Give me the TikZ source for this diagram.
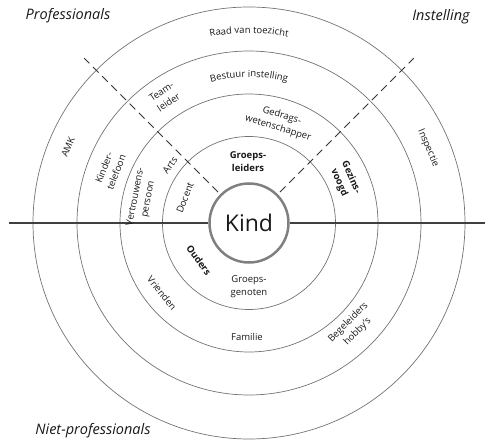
\documentclass[tikz,border=0pt]{standalone}
\usepackage{fontspec}
\setmainfont{Open Sans}
\usetikzlibrary{decorations.text}
\tikzset{
  ring/.style={draw=black!55, line width=0.7pt},
  axis/.style={draw=black!75, line width=1.1pt},
  divider/.style={draw=black!80, line width=0.8pt, dash pattern=on 8pt off 5pt},
  ringtext/.style={font=\fontsize{9.5}{13}\selectfont, text=black!90, align=center, inner sep=0pt},
  ringbold/.style={ringtext, font=\fontsize{9.5}{13}\selectfont\bfseries},
  corner/.style={font=\fontsize{14.5}{16}\selectfont\itshape, text=black!90, inner sep=0pt},
  kindcircle/.style={circle, draw=black!50, line width=2.5pt, fill=white, minimum size=79pt, inner sep=0pt, font=\fontsize{23}{23}\selectfont, text=black!90}
}
\begin{document}
\begin{tikzpicture}[x=1pt,y=1pt]
\useasboundingbox (-249,-221) rectangle (236,223);

\foreach \r in {86.5,129,172,216}
  \draw[ring] (0,0) circle [radius=\r];

\coordinate (axisW) at (-240,0);
\coordinate (axisE) at (236,0);
\coordinate (dashNW) at (135:233);
\coordinate (dashNE) at (45:233);

\node[kindcircle] (kind) at (0,0) {Kind};

\draw[axis] (axisW) -- (kind.west);
\draw[axis] (kind.east) -- (axisE);
\draw[divider, shorten <=3pt] (kind.135) -- (dashNW);
\draw[divider, shorten <=3pt] (kind.45) -- (dashNE);

\path[decorate, decoration={text along path, text align=center, text color=black!90,
  text={|\fontsize{9.5}{13}\selectfont|Raad van toezicht}}]
  (118:190) arc [start angle=118, end angle=62, radius=190];
\path[decorate, decoration={text along path, text align=center, text color=black!90,
  text={|\fontsize{9.5}{13}\selectfont|Bestuur instelling}}]
  (125:146) arc [start angle=125, end angle=55, radius=146];

\node[ringtext, rotate=67] (amk) at (-181,76) {AMK};
\node[ringtext, rotate=-67] (inspectie) at (179,75) {Inspectie};

\node[ringtext, rotate=34] (teamleider) at (-84,126) {Team-\\leider};
\node[ringtext, rotate=69] (kindertel) at (-139,53) {Kinder-\\telefoon};
\node[ringtext, rotate=45] (begeleiders) at (104,-104) {Begeleiders\\hobby's};

\node[ringtext, rotate=-17] (gedrag) at (31,101) {Gedrags-\\wetenschapper};
\node[ringtext, rotate=79] (vertrouwen) at (-107,25) {Vertrouwens-\\persoon};
\node[ringtext, rotate=54] (arts) at (-79,58) {Arts};
\node[ringbold, rotate=-66] (gezinsvoogd) at (96,43) {Gezins-\\voogd};
\node[ringtext] (familie) at (-2,-114) {Familie};
\node[ringtext, rotate=-51] (vrienden) at (-87,-70) {Vrienden};

\node[ringbold] (groepsleiders) at (-1,61) {Groeps-\\leiders};
\node[ringtext, rotate=69] (docent) at (-64,25) {Docent};
\node[ringbold, rotate=-54] (ouders) at (-50,-37) {Ouders};
\node[ringtext] (groepsgenoten) at (0,-64) {Groeps-\\genoten};

\node[corner] (prof) at (-181,207) {Professionals};
\node[corner] (instelling) at (192,206) {Instelling};
\node[corner] (nietprof) at (-156,-208) {Niet-professionals};
\end{tikzpicture}
\end{document}
